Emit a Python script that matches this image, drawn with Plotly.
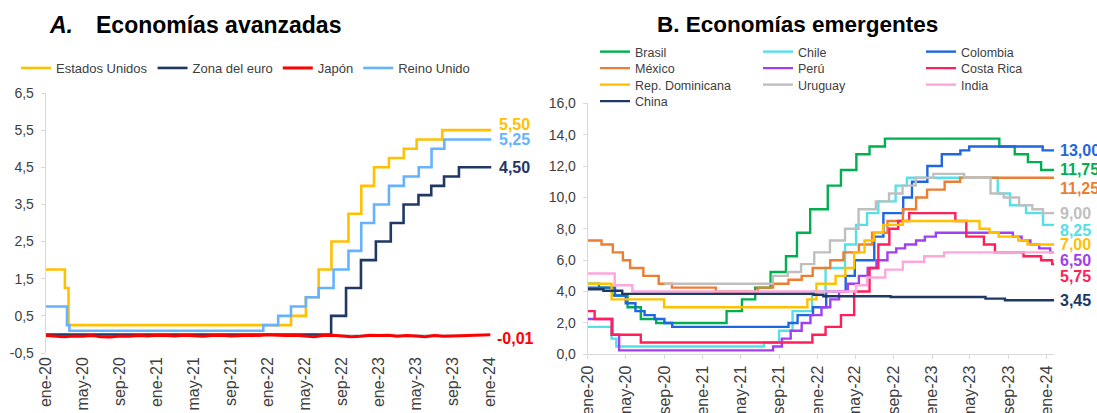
import pandas as pd
import plotly.graph_objects as go

W, H = 1097, 413

# ---------------- A. Economías avanzadas (tasa de política, %) ----------------
eeuu_fechas = ["2020-01-01", "2020-03-04", "2020-03-16", "2022-03-17", "2022-05-05", "2022-06-16",
               "2022-07-28", "2022-09-22", "2022-11-03", "2022-12-15", "2023-02-02", "2023-03-23",
               "2023-05-04", "2023-07-27", "2024-01-05"]
eeuu_tasa = [1.75, 1.25, 0.25, 0.50, 1.00, 1.75, 2.50, 3.25, 4.00, 4.50, 4.75, 5.00, 5.25, 5.50, 5.50]

euro_fechas = ["2020-01-01", "2022-07-27", "2022-09-14", "2022-11-02", "2022-12-21", "2023-02-08",
               "2023-03-22", "2023-05-10", "2023-06-21", "2023-08-02", "2023-09-20", "2024-01-05"]
euro_tasa = [0.00, 0.50, 1.25, 2.00, 2.50, 3.00, 3.50, 3.75, 4.00, 4.25, 4.50, 4.50]

# Japón: tasa overnight, lectura mensual aproximada
japon_tasa = [-0.03, -0.05, -0.06, -0.04, -0.05, -0.03, -0.06, -0.07, -0.04, -0.05, -0.03, -0.04,
              -0.02, -0.03, -0.04, -0.02, -0.03, -0.05, -0.03, -0.02, -0.04, -0.03, -0.02, -0.03,
              -0.01, -0.02, -0.03, -0.02, -0.04, -0.06, -0.03, -0.02, -0.04, -0.06, -0.05, -0.02,
              -0.03, -0.02, -0.05, -0.03, -0.04, -0.06, -0.03, -0.05, -0.04, -0.03, -0.02, -0.02, -0.01]
japon_fechas = pd.date_range("2020-01-01", periods=len(japon_tasa), freq="MS")

ru_fechas = ["2020-01-01", "2020-03-11", "2020-03-19", "2021-12-16", "2022-02-03", "2022-03-17",
             "2022-05-05", "2022-06-16", "2022-08-04", "2022-09-22", "2022-11-03", "2022-12-15",
             "2023-02-02", "2023-03-23", "2023-05-11", "2023-06-22", "2023-08-03", "2024-01-05"]
ru_tasa = [0.75, 0.25, 0.10, 0.25, 0.50, 0.75, 1.00, 1.25, 1.75, 2.25, 3.00, 3.50, 4.00, 4.25,
           4.50, 5.00, 5.25, 5.25]

# ---------------- B. Economías emergentes ----------------
br_fechas = ["2020-01-01", "2020-02-06", "2020-03-19", "2020-05-07", "2020-06-18", "2020-08-06",
             "2021-03-18", "2021-05-06", "2021-06-17", "2021-08-05", "2021-09-23", "2021-10-28",
             "2021-12-09", "2022-02-03", "2022-03-17", "2022-05-05", "2022-06-16", "2022-08-04",
             "2023-08-03", "2023-09-21", "2023-11-02", "2023-12-14", "2024-01-24"]
br_tasa = [4.50, 4.25, 3.75, 3.00, 2.25, 2.00, 2.75, 3.50, 4.25, 5.25, 6.25, 7.75, 9.25, 10.75,
           11.75, 12.75, 13.25, 13.75, 13.25, 12.75, 12.25, 11.75, 11.75]

cl_fechas = ["2020-01-01", "2020-03-17", "2020-04-01", "2021-07-15", "2021-09-01", "2021-10-14",
             "2021-12-15", "2022-01-27", "2022-03-30", "2022-05-04", "2022-06-08", "2022-07-14",
             "2022-09-07", "2022-10-13", "2023-07-29", "2023-09-06", "2023-10-27", "2023-12-20",
             "2024-01-24"]
cl_tasa = [1.75, 1.00, 0.50, 0.75, 1.50, 2.75, 4.00, 5.50, 7.00, 8.25, 9.00, 9.75, 10.75, 11.25,
           10.25, 9.50, 9.00, 8.25, 8.25]

co_fechas = ["2020-01-01", "2020-03-28", "2020-05-01", "2020-06-01", "2020-06-30", "2020-08-01",
             "2020-09-01", "2020-09-26", "2021-10-01", "2021-10-30", "2021-12-18", "2022-01-29",
             "2022-04-01", "2022-04-30", "2022-07-01", "2022-07-30", "2022-10-01", "2022-10-29",
             "2022-12-17", "2023-02-01", "2023-04-01", "2023-04-29", "2023-12-19", "2024-01-24"]
co_tasa = [4.25, 3.75, 3.25, 2.75, 2.50, 2.25, 2.00, 1.75, 2.00, 2.50, 3.00, 4.00, 5.00, 6.00,
           7.50, 9.00, 10.00, 11.00, 12.00, 12.75, 13.00, 13.25, 13.00, 13.00]

mx_fechas = ["2020-01-01", "2020-02-14", "2020-03-21", "2020-04-22", "2020-05-15", "2020-06-26",
             "2020-08-14", "2020-09-25", "2021-02-12", "2021-06-25", "2021-08-13", "2021-10-01",
             "2021-11-12", "2021-12-17", "2022-02-11", "2022-03-25", "2022-05-13", "2022-06-24",
             "2022-08-12", "2022-09-30", "2022-11-11", "2022-12-16", "2023-02-10", "2023-03-31",
             "2024-01-24"]
mx_tasa = [7.25, 7.00, 6.50, 6.00, 5.50, 5.00, 4.50, 4.25, 4.00, 4.25, 4.50, 4.75, 5.00, 5.50,
           6.00, 6.50, 7.00, 7.75, 8.50, 9.25, 10.00, 10.50, 11.00, 11.25, 11.25]

pe_fechas = ["2020-01-01", "2020-03-20", "2020-04-10", "2021-08-13", "2021-09-10", "2021-10-08",
             "2021-11-12", "2021-12-10", "2022-01-14", "2022-02-11", "2022-03-11", "2022-04-08",
             "2022-05-13", "2022-06-10", "2022-07-08", "2022-08-12", "2022-09-09", "2022-10-07",
             "2022-11-11", "2022-12-09", "2023-01-13", "2023-09-15", "2023-10-13", "2023-11-10",
             "2023-12-08", "2024-01-12", "2024-01-24"]
pe_tasa = [2.25, 1.25, 0.25, 0.50, 1.00, 1.50, 2.00, 2.50, 3.00, 3.50, 4.00, 4.50, 5.00, 5.50,
           6.00, 6.50, 6.75, 7.00, 7.25, 7.50, 7.75, 7.50, 7.25, 7.00, 6.75, 6.50, 6.50]

cr_fechas = ["2020-01-01", "2020-01-23", "2020-03-17", "2020-06-18", "2021-12-16", "2022-01-27",
             "2022-03-17", "2022-04-28", "2022-06-16", "2022-07-14", "2022-08-18", "2022-09-15",
             "2022-10-20", "2023-03-16", "2023-04-20", "2023-06-15", "2023-07-20", "2023-10-19",
             "2023-12-14", "2024-01-18", "2024-01-24"]
cr_tasa = [2.75, 2.25, 1.25, 0.75, 1.25, 1.75, 2.50, 4.00, 5.50, 7.00, 8.00, 8.50, 9.00, 8.50,
           7.50, 7.00, 6.50, 6.25, 6.00, 5.75, 5.75]

rd_fechas = ["2020-01-01", "2020-03-17", "2020-08-31", "2021-11-30", "2021-12-29", "2022-02-28",
             "2022-03-31", "2022-04-28", "2022-05-31", "2022-06-30", "2022-07-29", "2022-09-30",
             "2023-06-01", "2023-07-03", "2023-08-01", "2023-10-02", "2023-11-01", "2024-01-24"]
rd_tasa = [4.50, 3.50, 3.00, 3.50, 4.50, 5.00, 5.50, 6.50, 7.25, 7.75, 8.25, 8.50, 8.00, 7.75,
           7.50, 7.25, 7.00, 7.00]

uy_fechas = ["2020-09-01", "2021-08-12", "2021-09-29", "2021-11-10", "2021-12-22", "2022-02-10",
             "2022-03-30", "2022-05-12", "2022-07-06", "2022-08-17", "2022-09-29", "2022-11-10",
             "2023-01-05", "2023-04-13", "2023-07-06", "2023-08-17", "2023-10-05", "2023-11-16",
             "2023-12-20", "2024-01-24"]
uy_tasa = [4.50, 5.00, 5.25, 5.75, 6.50, 7.25, 8.00, 9.25, 9.75, 10.25, 10.75, 11.25, 11.50,
           11.25, 10.25, 10.00, 9.50, 9.25, 9.00, 9.00]

in_fechas = ["2020-01-01", "2020-03-27", "2020-05-22", "2022-05-04", "2022-06-08", "2022-08-05",
             "2022-09-30", "2022-12-07", "2023-02-08", "2024-01-24"]
in_tasa = [5.15, 4.40, 4.00, 4.40, 4.90, 5.40, 5.90, 6.25, 6.50, 6.50]

cn_fechas = ["2020-01-01", "2020-02-20", "2020-04-20", "2021-12-20", "2022-01-20", "2022-08-22",
             "2023-06-20", "2023-08-21", "2024-01-24"]
cn_tasa = [4.15, 4.05, 3.85, 3.80, 3.70, 3.65, 3.55, 3.45, 3.45]

tick_fechas = ["2020-01-01", "2020-05-01", "2020-09-01", "2021-01-01", "2021-05-01", "2021-09-01",
               "2022-01-01", "2022-05-01", "2022-09-01", "2023-01-01", "2023-05-01", "2023-09-01",
               "2024-01-01"]
tick_textos = ["ene-20", "may-20", "sep-20", "ene-21", "may-21", "sep-21", "ene-22", "may-22",
               "sep-22", "ene-23", "may-23", "sep-23", "ene-24"]
ya_ticks = [-0.5, 0.5, 1.5, 2.5, 3.5, 4.5, 5.5, 6.5]
ya_textos = ["-0,5", "0,5", "1,5", "2,5", "3,5", "4,5", "5,5", "6,5"]

# (nombre, fechas, tasas, color, leyenda, forma, grosor, ajuste vertical de la etiqueta final)
panel_a = [
    ("Estados Unidos", eeuu_fechas, eeuu_tasa, "#FFC000", "legend", "hv", 2.6, 0.15),
    ("Zona del euro", euro_fechas, euro_tasa, "#1F3864", "legend", "hv", 2.6, 0.0),
    ("Japón", japon_fechas, japon_tasa, "#FF0000", "legend", "linear", 3.0, -0.09),
    ("Reino Unido", ru_fechas, ru_tasa, "#66B2FF", "legend", "hv", 2.6, 0.0),
]
# (nombre, fechas, tasas, color, leyenda, ajuste de la etiqueta final o None si no lleva)
panel_b = [
    ("Brasil", br_fechas, br_tasa, "#00B050", "legend2", 0.0),
    ("Chile", cl_fechas, cl_tasa, "#55E0E8", "legend2", -0.33),
    ("Colombia", co_fechas, co_tasa, "#1F66E0", "legend2", 0.0),
    ("México", mx_fechas, mx_tasa, "#ED7D31", "legend3", -0.71),
    ("Perú", pe_fechas, pe_tasa, "#A040F0", "legend3", -0.53),
    ("Costa Rica", cr_fechas, cr_tasa, "#FF1F5A", "legend3", -0.76),
    ("Rep. Dominicana", rd_fechas, rd_tasa, "#FFC000", "legend4", 0.0),
    ("Uruguay", uy_fechas, uy_tasa, "#BFBFBF", "legend4", 0.0),
    ("India", in_fechas, in_tasa, "#FFA6DC", "legend4", None),
    ("China", cn_fechas, cn_tasa, "#203864", "legend5", 0.0),
]

FONT = "Liberation Sans, Arial, sans-serif"
GRIS = "#404040"
EJE = "#D9D9D9"


def px_x(p):
    return p / W


def px_y(p):
    return 1 - p / H


def coma(v):
    return f"{v:.2f}".replace(".", ",")


fig = go.Figure()
anots = []

for nombre, f, v, color, leg, forma, grosor, ajuste in panel_a:
    fig.add_trace(go.Scatter(x=f, y=v, name=nombre, mode="lines", legend=leg,
                             line=dict(color=color, width=grosor, shape=forma),
                             xaxis="x", yaxis="y"))
    anots.append(dict(x=f[-1], y=v[-1] + ajuste, xref="x", yref="y", text=f"<b>{coma(v[-1])}</b>",
                      showarrow=False, xanchor="left", xshift=5,
                      font=dict(size=16, color=color, family=FONT)))

for nombre, f, v, color, leg, ajuste in panel_b:
    fig.add_trace(go.Scatter(x=f, y=v, name=nombre, mode="lines", legend=leg,
                             line=dict(color=color, width=2.4, shape="hv"),
                             xaxis="x2", yaxis="y2"))
    if ajuste is not None:
        anots.append(dict(x=f[-1], y=v[-1] + ajuste, xref="x2", yref="y2",
                          text=f"<b>{coma(v[-1])}</b>", showarrow=False, xanchor="left", xshift=4,
                          font=dict(size=16, color=color, family=FONT)))

# títulos
anots.append(dict(x=px_x(47), y=px_y(25), xref="paper", yref="paper", text="<b><i>A.</i></b>",
                  showarrow=False, xanchor="left", yanchor="middle",
                  font=dict(size=23, color="black", family=FONT)))
anots.append(dict(x=px_x(94), y=px_y(25), xref="paper", yref="paper", text="<b>Economías avanzadas</b>",
                  showarrow=False, xanchor="left", yanchor="middle",
                  font=dict(size=23, color="black", family=FONT)))
anots.append(dict(x=px_x(797), y=px_y(25), xref="paper", yref="paper",
                  text="<b>B. Economías emergentes</b>", showarrow=False, xanchor="center",
                  yanchor="middle", font=dict(size=22.5, color="black", family=FONT)))

eje_x = dict(tickvals=tick_fechas, ticktext=tick_textos, tickangle=-90, showgrid=False,
             zeroline=False, automargin=False, tickfont=dict(size=16, color=GRIS, family=FONT))
eje_y = dict(showgrid=False, showline=True, linecolor=EJE, linewidth=1, ticks="outside",
             ticklen=4, tickcolor=EJE, tickformat=".1f", ticklabelstandoff=4, automargin=False,
             tickfont=dict(size=14, color=GRIS, family=FONT))

leyenda = dict(orientation="h", xanchor="left", yanchor="middle", bgcolor="rgba(0,0,0,0)",
               font=dict(size=13, color=GRIS, family=FONT), itemwidth=30, traceorder="normal")
leyenda_b = dict(leyenda, font=dict(size=12.5, color=GRIS, family=FONT),
                 entrywidth=118, entrywidthmode="pixels")

fig.update_layout(
    width=W, height=H,
    margin=dict(l=0, r=0, t=0, b=0, autoexpand=False),
    paper_bgcolor="white", plot_bgcolor="white",
    separators=",.",
    font=dict(family=FONT, color=GRIS),
    xaxis=dict(eje_x, domain=[px_x(45.7), px_x(491.5)], range=["2020-01-01", "2024-01-05"],
               anchor="y", showline=False, ticks=""),
    yaxis=dict(eje_y, domain=[px_y(353), px_y(93)], range=[-0.5, 6.5], tickvals=ya_ticks,
               ticktext=ya_textos, anchor="x", zeroline=True, zerolinecolor=EJE, zerolinewidth=1),
    xaxis2=dict(eje_x, domain=[px_x(587.7), px_x(1054)], range=["2020-01-01", "2024-01-24"],
                anchor="y2", showline=True, linecolor=EJE, ticks="outside", ticklen=4, tickcolor=EJE),
    yaxis2=dict(eje_y, domain=[px_y(354.3), px_y(103.3)], range=[0, 16], dtick=2, anchor="x2",
                zeroline=False),
    legend=dict(leyenda, x=px_x(16), y=px_y(68)),
    legend2=dict(leyenda_b, x=px_x(595), y=px_y(52)),
    legend3=dict(leyenda_b, x=px_x(595), y=px_y(68.5)),
    legend4=dict(leyenda_b, x=px_x(595), y=px_y(85)),
    legend5=dict(leyenda_b, x=px_x(595), y=px_y(101.5)),
    annotations=anots,
)

# la página no debe desplazar la figura
fig.write_html("out.html", config={"displayModeBar": False},
               post_script="document.body.style.margin='0';")
